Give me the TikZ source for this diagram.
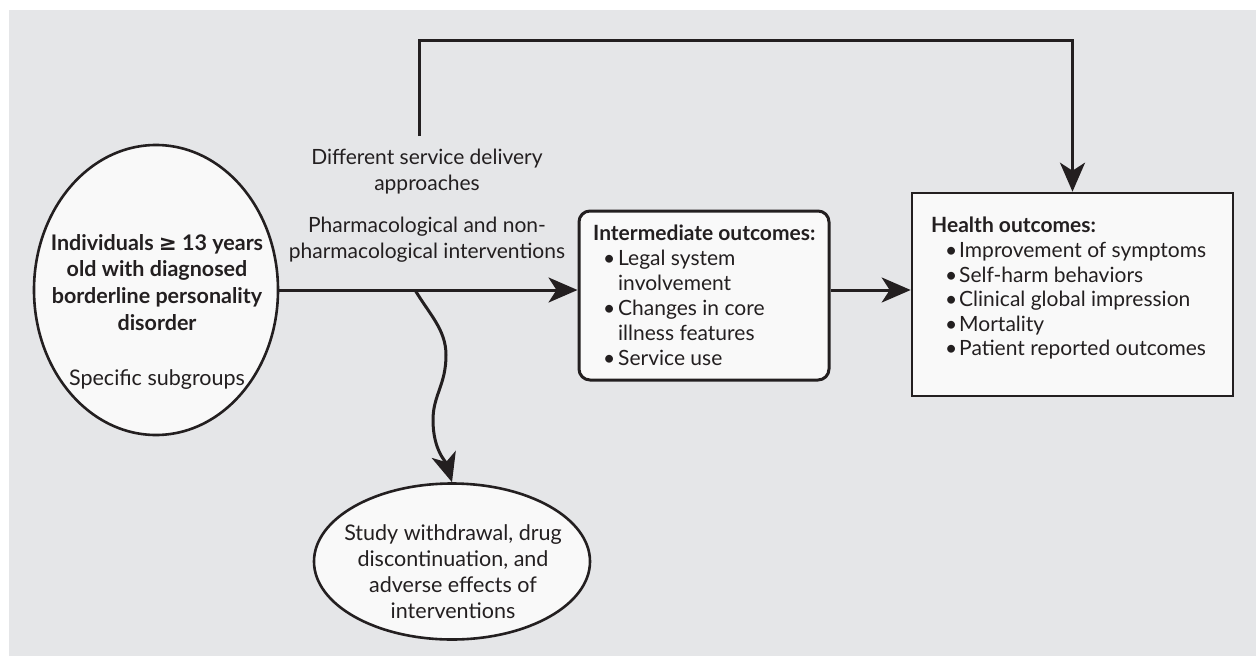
\documentclass[tikz,border=0pt]{standalone}
\usepackage{fontspec}
\setmainfont{Lato}
\newfontfamily\symf{DejaVu Sans}
\usetikzlibrary{arrows.meta,shapes.geometric}
\definecolor{bggray}{HTML}{E5E6E8}
\definecolor{boxfill}{HTML}{F9F9F9}
\definecolor{ink}{HTML}{231F20}
\newcommand{\ibul}[1]{\hspace*{10pt}\makebox[15pt][l]{\textbullet}#1}
\newcommand{\icont}[1]{\hspace*{25pt}#1}
\newcommand{\hbul}[1]{\hspace*{14pt}\makebox[14pt][l]{\textbullet}#1}
\begin{document}
\begin{tikzpicture}[x=1pt,y=-1pt,
  arr/.style={draw=ink, line width=3pt, -{Stealth[length=29pt,width=25pt,inset=8pt]}},
  txt/.style={text=ink, inner sep=0pt, font=\fontsize{21}{25}\selectfont},
  etxt/.style={text=ink, inner sep=0pt, font=\fontsize{21.5}{26.7}\selectfont},
  oval/.style={ellipse, draw=ink, line width=2.6pt, fill=boxfill, inner sep=0pt},
  outbox/.style={draw=ink, fill=boxfill, inner sep=0pt}]
\useasboundingbox (0,0) rectangle (1256,656);
\fill[white] (0,0) rectangle (1256,656);
\fill[bggray] (9,10) rectangle (1256,656);

% population ellipse
\node[oval, minimum width=244pt, minimum height=290pt] (pop) at (156,290) {};
\node[etxt, anchor=north, align=center, font=\bfseries\fontsize{21.5}{26.7}\selectfont] (poptxt) at (157,234)
  {Individuals {\symf ≥} 13 years\\old with diagnosed\\borderline personality\\disorder};
\node[etxt, anchor=base] (sub) at (157,385) {Specific subgroups};

% intermediate outcomes box
\node[outbox, rounded corners=11pt, line width=3pt, minimum width=250pt, minimum height=169pt] (inter) at (704,295.5) {};
\node[txt, anchor=north west, align=left] (intertxt) at (593,225)
  {{\bfseries Intermediate outcomes:}\\
   \ibul{Legal system}\\
   \icont{involvement}\\
   \ibul{Changes in core}\\
   \icont{illness features}\\
   \ibul{Service use}};

% health outcomes box
\node[outbox, line width=2.6pt, minimum width=321pt, minimum height=203pt] (health) at (1072.5,294.5) {};
\node[txt, anchor=north west, align=left, font=\fontsize{21}{24.6}\selectfont] (healthtxt) at (931,217)
  {{\bfseries Health outcomes:}\\
   \hbul{Improvement of symptoms}\\
   \hbul{Self-harm behaviors}\\
   \hbul{Clinical global impression}\\
   \hbul{Mortality}\\
   \hbul{Patient reported outcomes}};

% dropout ellipse
\node[oval, minimum width=276pt, minimum height=156pt] (drop) at (452,561.5) {};
\node[txt, anchor=north, align=center, font=\fontsize{21.5}{26}\selectfont] (droptxt) at (453,524)
  {Study withdrawal, drug\\discontinuation, and\\adverse effects of\\interventions};

% labels
\node[txt, anchor=north, align=center, font=\fontsize{21}{26}\selectfont] (svc) at (427,149)
  {Different service delivery\\approaches};
\node[txt, anchor=north, align=center, font=\fontsize{21}{25.5}\selectfont] (pharm) at (427,217)
  {Pharmacological and non-\\pharmacological interventions};

% connectors
\coordinate (topstart) at (419,136);
\coordinate (topy) at (0,40);
\coordinate (branch) at (415,290);
\draw[arr] (pop.east) -- (pop.east -| inter.west);
\draw[arr] (inter.east |- pop.east) -- (health.west |- pop.east);
\draw[arr, line join=miter] (topstart) |- (topy -| health.north) -- (health.north);
\draw[arr] (branch) .. controls (430,315) and (446,330) .. (446,355)
  .. controls (446,385) and (433,395) .. (433,420)
  .. controls (433,450) and (446,462) .. (drop.north);
\end{tikzpicture}
\end{document}
